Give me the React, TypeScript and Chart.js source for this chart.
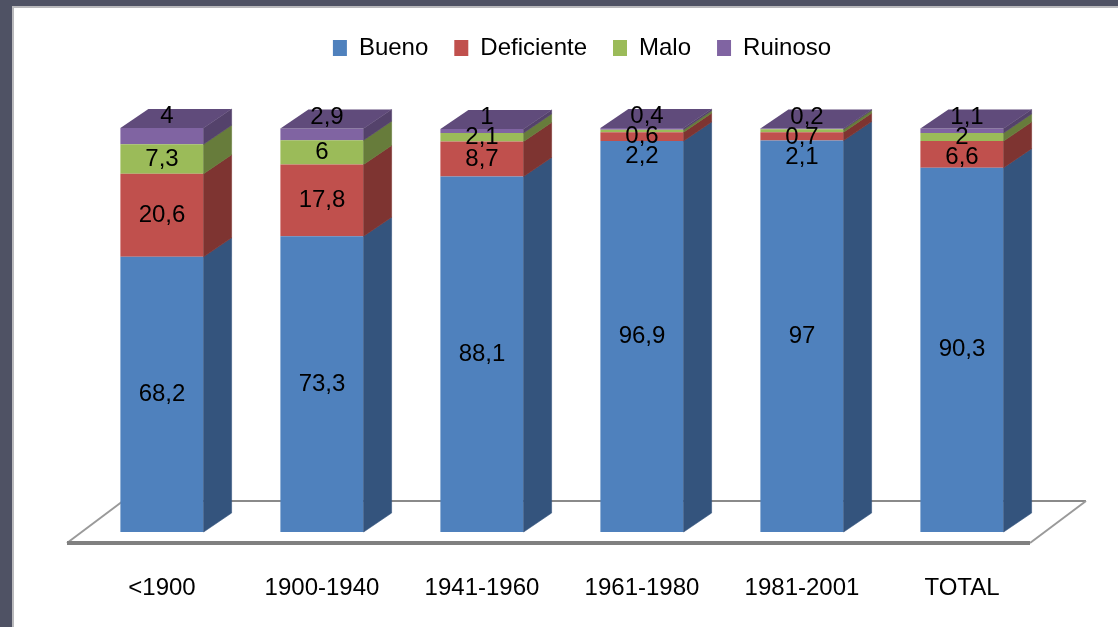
import React, { useEffect, useRef } from "react";
import { Chart, registerables } from "chart.js";

Chart.register(...registerables);

const categories = ["<1900", "1900-1940", "1941-1960", "1961-1980", "1981-2001", "TOTAL"];
const bueno = [68.2, 73.3, 88.1, 96.9, 97, 90.3];
const deficiente = [20.6, 17.8, 8.7, 2.2, 2.1, 6.6];
const malo = [7.3, 6, 2.1, 0.6, 0.7, 2];
const ruinoso = [4, 2.9, 1, 0.4, 0.2, 1.1];
const seriesNames = ["Bueno", "Deficiente", "Malo", "Ruinoso"];

const frontColors = ["#4F81BD", "#C0504D", "#9BBB59", "#8064A2"];
const sideColors = ["#34547D", "#7E3431", "#677C3B", "#54426B"];
const topColors = ["#3F6797", "#9A403E", "#7C9647", "#604B7B"];

const FONT = "'Liberation Sans', Arial, sans-serif";
const DX = 28;
const DY = 19;

const fmt = (v: number) => String(v).replace(".", ",");

const backgroundPlugin = {
  id: "slideBackground",
  beforeDraw(chart: any) {
    const { ctx, width, height } = chart;
    ctx.save();
    ctx.fillStyle = "#4F5264";
    ctx.fillRect(0, 0, width, height);
    ctx.fillStyle = "#B9B9BC";
    ctx.fillRect(12, 6, width - 12, height - 6);
    ctx.fillStyle = "#FFFFFF";
    ctx.fillRect(14, 8, width - 14, height - 8);
    ctx.restore();
  },
};

const floorPlugin = {
  id: "floor3d",
  beforeDatasetsDraw(chart: any) {
    const { ctx, chartArea } = chart;
    const { left, right, bottom } = chartArea;
    const fy = bottom + 11;
    const by = bottom - 31;
    const fl = left - 15;
    const fr = right - 12;
    const off = 56;
    ctx.save();
    ctx.strokeStyle = "#8A8A8A";
    ctx.lineWidth = 2;
    ctx.beginPath();
    ctx.moveTo(fl + off, by);
    ctx.lineTo(fr + off, by);
    ctx.stroke();
    ctx.strokeStyle = "#9A9A9A";
    ctx.lineWidth = 2;
    ctx.beginPath();
    ctx.moveTo(fl, fy);
    ctx.lineTo(fl + off, by);
    ctx.moveTo(fr, fy);
    ctx.lineTo(fr + off, by);
    ctx.stroke();
    ctx.strokeStyle = "#808080";
    ctx.lineWidth = 4;
    ctx.beginPath();
    ctx.moveTo(fl, fy);
    ctx.lineTo(fr, fy);
    ctx.stroke();
    ctx.restore();
  },
};

const threeDPlugin = {
  id: "bars3d",
  afterDatasetsDraw(chart: any) {
    const { ctx } = chart;
    const n = chart.data.datasets.length;
    ctx.save();
    for (let d = 0; d < n; d++) {
      const meta = chart.getDatasetMeta(d);
      meta.data.forEach((bar: any) => {
        const { x, y, base, width } = bar.getProps(["x", "y", "base", "width"], true);
        const r = x + width / 2;
        const l = x - width / 2;
        ctx.fillStyle = sideColors[d];
        ctx.strokeStyle = sideColors[d];
        ctx.lineWidth = 0.6;
        ctx.beginPath();
        ctx.moveTo(r, y);
        ctx.lineTo(r + DX, y - DY);
        ctx.lineTo(r + DX, base - DY);
        ctx.lineTo(r, base);
        ctx.closePath();
        ctx.fill();
        ctx.stroke();
        if (d === n - 1) {
          ctx.fillStyle = topColors[d];
          ctx.beginPath();
          ctx.moveTo(l, y);
          ctx.lineTo(l + DX, y - DY);
          ctx.lineTo(r + DX, y - DY);
          ctx.lineTo(r, y);
          ctx.closePath();
          ctx.fill();
        }
      });
    }
    // data labels
    ctx.fillStyle = "#000";
    ctx.font = `24px ${FONT}`;
    ctx.textAlign = "center";
    ctx.textBaseline = "middle";
    const count = chart.data.labels.length;
    for (let i = 0; i < count; i++) {
      let prevY = -Infinity;
      for (let d = n - 1; d >= 0; d--) {
        const bar: any = chart.getDatasetMeta(d).data[i];
        const { x, y, base } = bar.getProps(["x", "y", "base"], true);
        const val = chart.data.datasets[d].data[i];
        let ly: number;
        let lx = x;
        if (d === n - 1) {
          ly = y - DY * 0.6;
          lx = x + 5;
        } else {
          ly = Math.max((y + base) / 2, prevY + 20);
        }
        prevY = ly;
        ctx.fillText(fmt(val), lx, ly);
      }
    }
    ctx.restore();
  },
};

export default function App() {
  const canvasRef = useRef<HTMLCanvasElement | null>(null);

  useEffect(() => {
    if (!canvasRef.current) return;
    const series = [bueno, deficiente, malo, ruinoso];
    const chart = new Chart(canvasRef.current, {
      type: "bar",
      data: {
        labels: categories,
        datasets: series.map((data, k) => ({
          label: seriesNames[k],
          data,
          backgroundColor: frontColors[k],
          borderWidth: 0,
          barPercentage: 0.52,
          categoryPercentage: 1,
        })),
      },
      options: {
        responsive: false,
        animation: false,
        devicePixelRatio: 1,
        layout: { padding: { left: 82, right: 36, top: 10, bottom: 0 } },
        plugins: {
          legend: {
            position: "top",
            labels: {
              font: { family: FONT, size: 24 },
              color: "#000",
              boxWidth: 14,
              boxHeight: 16,
              padding: 26,
            },
          },
          tooltip: { enabled: false },
        },
        scales: {
          x: {
            stacked: true,
            offset: true,
            grid: { display: false, drawTicks: false },
            border: { display: false },
            afterFit: (s: any) => {
              s.height = 95;
            },
            ticks: {
              font: { family: FONT, size: 24 },
              color: "#000",
              padding: 42,
              maxRotation: 0,
              autoSkip: false,
            },
          },
          y: {
            stacked: true,
            min: 0,
            max: 114.5,
            position: "right",
            afterFit: (s: any) => {
              s.width = 40;
            },
            ticks: { display: false },
            grid: { display: false },
            border: { display: false },
          },
        },
      } as any,
      plugins: [backgroundPlugin, floorPlugin, threeDPlugin],
    });
    return () => chart.destroy();
  }, []);

  return (
    <canvas
      ref={canvasRef}
      width={1118}
      height={627}
      style={{ position: "fixed", left: 0, top: 0, width: 1118, height: 627 }}
    />
  );
}
